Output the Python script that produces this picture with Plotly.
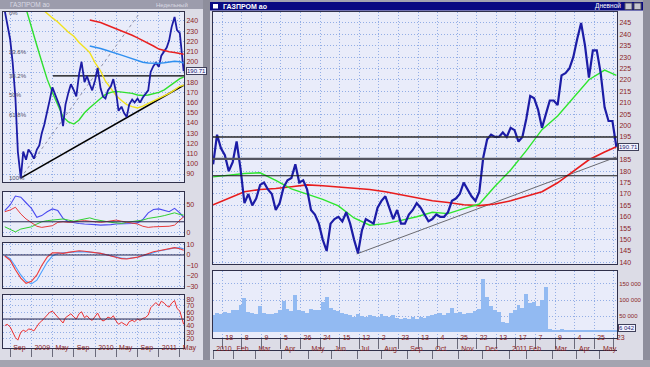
import plotly.graph_objects as go
import pandas as pd

# ---------------- LEFT WINDOW (weekly overview) ----------------
left_dates = list(pd.date_range("2008-08-01", "2011-05-15", freq="SMS").strftime("%Y-%m-%d")) + ["2011-05-23"]
left_close = [250, 236, 222, 200, 165, 112, 86, 112, 104, 114,
              110, 105, 114, 118, 130, 138, 150, 162, 175, 169, 160, 155, 137, 158, 170, 178, 172, 166, 188, 200, 180, 186, 178, 172,
              182, 194, 174, 166, 164, 172, 176, 183, 170, 152, 156, 150, 146, 158, 163, 160, 164, 160, 165, 168, 172, 190, 196, 199,
              195, 206, 210, 214, 221, 234, 244, 231, 228, 202,
              190.71]
left_rsi = [40, 42, 38, 30, 22, 18, 30, 33, 31, 35,
            34, 32, 38, 44, 47, 51, 55, 60, 62, 58, 54, 50, 44, 52, 56, 58, 53, 50, 58, 61, 52, 55, 50, 48,
            54, 59, 50, 47, 49, 53, 51, 55, 47, 42, 45, 43, 40, 46, 48, 46, 50, 48, 51, 52, 56, 67, 72, 75,
            70, 77, 74, 70, 68, 74, 78, 66, 62, 50,
            42]

month_dates = list(pd.date_range("2008-08-01", "2011-05-01", freq="MS").strftime("%Y-%m-%d")) + ["2011-05-23"]
left_green = [None] * 4 + [252, 235, 216, 200, 183, 170, 157, 146, 141, 139, 143, 150, 155,
                           160, 164, 168, 170, 171, 170.5, 170, 169, 167.5, 167, 167.5, 168.5,
                           170, 172.5, 176, 180, 183.5, 185]
left_yellow = [None] * 7 + [252, 247, 243, 239, 234, 229, 225, 219, 214, 209,
                            199, 191, 181, 174, 167, 162, 158, 156, 154.7, 156.5, 159, 161,
                            164, 166, 169, 172.5, 176, 177]
left_red = [None] * 16 + [241, 240, 238.5, 236.5, 234.5, 232.5, 230, 228.5, 226, 223.5, 221, 218.5, 215.5,
                          212.5, 211, 209.8, 209, 208, 207.5]
left_blue = [None] * 16 + [215.5, 214.5, 213, 211.5, 210, 208.5, 206.5, 204.8, 203, 201, 199.5, 198.8, 198.5,
                           198.6, 199, 199.8, 200.6, 200, 198.8]

dmi_blue = [40, 50, 66, 64, 54, 44, 28, 31, 38, 43, 40, 26, 20, 18, 17, 16, 16, 15, 14, 14,
            15, 16, 16, 17, 17, 18, 24, 36, 42, 43, 40, 38, 44, 36, 28]
dmi_red = [38, 41, 46, 34, 25, 19, 12, 10, 11, 13, 19, 20, 19, 20, 21, 22, 21, 20, 19, 20,
           22, 23, 21, 19, 18, 16, 12, 10, 11, 11, 12, 12, 14, 22, 29]
dmi_green = [11, 6, 2, 7, 9, 11, 16, 20, 22, 23, 24, 25, 23, 21, 23, 25, 27, 24, 22, 20,
             19, 18, 17, 19, 20, 21, 23, 26, 27, 29, 31, 34, 36, 33, 32]
macd_red = [-1, -5, -14, -22, -27, -25, -19, -10, -2, 2, 2, 1.5, 2.5, 3.5, 4, 3.5, 3, 2, 1.5, 0.5,
            -1, -2.5, -3.5, -3.8, -3, -2, -0.5, 1.5, 3, 4, 5, 6, 7, 6, 4.5]
macd_blue = [-0.5, -3.5, -11, -19, -25, -27.5, -24, -16, -7, -1, 1.5, 2, 2.5, 3, 3.2, 3, 2.8, 2.2, 1.5, 0.5,
             -0.8, -2, -3, -3.3, -3, -2.2, -1, 0.8, 2.5, 3.8, 4.8, 5.8, 6.8, 6.8, 6]

left_trend_dates = ["2008-10-31", "2011-05-23"]
left_trend_vals = [86, 177]
left_diag_dates = ["2008-10-31", "2010-09-14"]
left_diag_vals = [86, 248]
fib_high, fib_low = 248, 86
fib_ratios = [0, 0.236, 0.382, 0.5, 0.618, 1.0]
fib_labels = ["0%", "23.6%", "38.2%", "50%", "61.8%", "100%"]
fib_line_dates = ["2009-05-04", "2011-05-25"]

left_tick_dates = ["2008-09-01", "2009-01-01", "2009-05-01", "2009-09-01", "2010-01-01",
                   "2010-05-01", "2010-09-01", "2011-01-01", "2011-05-01"]
left_tick_text = ["Sep", "2009", "May", "Sep", "2010", "May", "Sep", "2011", "May"]
left_price_ticks = list(range(90, 241, 10))

# ---------------- RIGHT WINDOW (daily, trading-day index) ----------------
day_idx = list(range(8, 318, 3))
right_close = [183, 196, 190, 187, 180, 184, 193, 181, 166, 170,
               165, 168, 174, 175, 172, 170, 163, 166, 173, 176,
               177, 183, 175, 176, 172, 163, 161, 157, 150, 145,
               157, 159, 160, 158, 162, 157, 150, 144, 154, 159,
               158, 157, 164, 167, 169, 164, 159, 163, 157, 157,
               161, 163, 166, 164, 161, 158, 159, 161, 160, 160,
               162, 167, 168, 170, 175, 172, 169, 167, 171, 186,
               194, 196, 195, 195, 197, 195, 199, 198, 193, 195,
               203, 213, 212, 207, 199, 205, 211, 211, 209, 222,
               223, 225, 230, 238, 245, 235, 221, 233, 233, 223,
               208, 202, 202, 190.71]
volume_k = [52, 58, 55, 62, 60, 68, 70, 85, 105, 62,
            58, 55, 80, 58, 55, 57, 60, 68, 98, 72,
            65, 115, 70, 65, 60, 72, 68, 70, 95, 110,
            75, 70, 65, 60, 55, 52, 48, 55, 50, 47,
            52, 50, 48, 55, 50, 47, 52, 45, 42, 44,
            40, 46, 42, 48, 44, 50, 52, 55, 58, 52,
            60, 75, 58, 62, 55, 60, 58, 65, 72, 165,
            110, 80, 70, 62, 32, 28, 60, 70, 85, 75,
            120, 90, 95, 80, 100, 140, 8, 6, 5, 9,
            6, 5, 7, 6, 5, 7, 6, 5, 6, 5,
            7, 6, 5, 6.042]
ma_days = list(range(8, 317, 12)) + [317]
green_ma = [177.5, 178.2, 179, 179.3, 176, 172.2, 170, 167.6, 164.8, 159.5,
            156.3, 157, 158.4, 160, 162, 161.4, 163.6, 165.6, 173.4, 180.5,
            189, 198.2, 204.2, 212.2, 220.1, 224.3, 222]
red_ma = [165.3, 168, 171, 172, 172.4, 173.2, 174, 173.6, 173, 172.7,
          172, 171, 169.7, 168.3, 167, 166.3, 165.3, 164.9, 165.6, 167,
          168.9, 171, 174.9, 179.9, 185, 188.4, 190.7]
trend_days = [118, 317]
trend_vals = [143.7, 186.2]
levels = [195, 185.4, 178]
level_colors = ["#2a2a2a", "#555560", "#1a1a1a"]
level_widths = [1.4, 2.2, 1.2]
right_price_ticks = list(range(140, 246, 5))
vol_ticks = [50, 100, 150]
vol_text = ["50 000", "100 000", "150 000"]

day_ticks = list(range(15, 316, 15))
day_text = ["18", "8", "9", "5", "26", "24", "15", "12", "2", "23", "13",
            "4", "25", "22", "13", "17", "7", "9", "4", "25", "23"]
month_ticks = [8, 23.7, 40.5, 60.4, 81, 98.7, 118.5, 136.9, 156.8, 175.9,
               195.8, 214.2, 234.8, 247.8, 267.7, 286.1, 304.4]
month_text = ["2010", "Feb", "Mar", "Apr", "May", "Jun", "Jul", "Aug", "Sep",
              "Oct", "Nov", "Dec", "2011", "Feb", "Mar", "Apr", "May"]

# ---------------- layout helpers ----------------
W, H = 650, 367
def fx(p):
    return p / W
def fy(p):
    return 1 - p / H

FONT = "Liberation Sans, Arial, sans-serif"
TICKC = "#8b1f1f"
GRID = "#93aee6"
LINE = "#30304a"
NAVY = "#1c1ca6"
GDASH = "1px,2px"

fig = go.Figure()

def sc(x, y, xa, ya, color, width=1.4, dash=None):
    fig.add_trace(go.Scatter(x=x, y=y, xaxis=xa, yaxis=ya, mode="lines",
                             line=dict(color=color, width=width, dash=dash),
                             connectgaps=False, showlegend=False, hoverinfo="skip"))

# left price panel
sc(left_diag_dates, left_diag_vals, "x", "y", "#9090a8", 1, "dot")
sc(left_trend_dates, left_trend_vals, "x", "y", "#000000", 1.6)
fib_382 = fib_high - 0.382 * (fib_high - fib_low)
sc(fib_line_dates, [fib_382, fib_382], "x", "y", "#000000", 1.3)
sc(month_dates, left_yellow, "x", "y", "#f2e21c", 1.4)
sc(month_dates, left_green, "x", "y", "#2ee02e", 1.4)
sc(left_dates, left_close, "x", "y", NAVY, 1.8)
sc(month_dates, left_red, "x", "y", "#e82020", 1.5)
sc(month_dates, left_blue, "x", "y", "#2f8ff0", 1.5)

# left oscillators
sc(month_dates, dmi_blue, "x2", "y2", "#4a4af0", 1.1)
sc(month_dates, dmi_green, "x2", "y2", "#30d030", 1.0)
sc(month_dates, dmi_red, "x2", "y2", "#e83a3a", 1.0)
sc(month_dates, macd_blue, "x3", "y3", "#4aa0ff", 1.1)
sc(month_dates, macd_red, "x3", "y3", "#ee3a3a", 1.1)
sc(left_dates, left_rsi, "x4", "y4", "#ee3030", 1.0)

# right price panel
sc(trend_days, trend_vals, "x5", "y5", "#6a6a70", 1.0)
sc(ma_days, red_ma, "x5", "y5", "#e81c1c", 1.6)
sc(ma_days, green_ma, "x5", "y5", "#2ee62e", 1.4)
sc(day_idx, right_close, "x5", "y5", NAVY, 2.2)

# volume
fig.add_trace(go.Bar(x=day_idx, y=volume_k, xaxis="x6", yaxis="y6", width=3,
                     marker=dict(color="#92baf2", line=dict(width=0)),
                     showlegend=False, hoverinfo="skip"))
# helper trace for month label axis
fig.add_trace(go.Scatter(x=[month_ticks[0]], y=[0], xaxis="x7", yaxis="y6", mode="markers",
                         marker=dict(opacity=0), showlegend=False, hoverinfo="skip"))

left_xdom = [fx(3), fx(184)]
right_xdom = [fx(213), fx(617)]
left_range = ["2008-07-22", "2011-05-25"]
right_range = [7.9, 317.5]

def xax(dom, rng, tickvals, ticktext=None, labels=False, **kw):
    d = dict(domain=dom, range=rng, tickvals=tickvals, ticktext=ticktext, tickangle=0,
             showticklabels=labels, showgrid=True, gridcolor=GRID, griddash=GDASH, gridwidth=1,
             zeroline=False, showline=True, linecolor=LINE, linewidth=1, mirror=True,
             ticks="", tickfont=dict(family=FONT, size=7, color=TICKC), automargin=False,
             fixedrange=True)
    d.update(kw)
    return d

def yax(dom, rng, tickvals, anchor, ticktext=None, size=7):
    return dict(domain=dom, range=rng, tickvals=tickvals, ticktext=ticktext, side="right",
                anchor=anchor, showgrid=True, gridcolor=GRID, griddash=GDASH, gridwidth=1,
                zeroline=False, showline=True, linecolor=LINE, linewidth=1, mirror=True,
                ticks="", tickfont=dict(family=FONT, size=size, color=TICKC), automargin=False,
                fixedrange=True)

# hide the tick label that sits under the last-price box
left_price_text = ["" if v == 190 else str(v) for v in left_price_ticks]
right_price_text = ["" if v == 190 else str(v) for v in right_price_ticks]

date_kw = dict(ticks="outside", ticklen=8, tickcolor="#6a6a7a", ticklabelposition="outside right",
               ticklabelstandoff=-7, ticklabelshift=2)

layout = dict(
    width=W, height=H, autosize=False,
    margin=dict(l=0, r=0, t=0, b=0),
    paper_bgcolor="#dcdce6", plot_bgcolor="#e9ecfa",
    showlegend=False, hovermode=False, bargap=0,
    font=dict(family=FONT, size=7, color=TICKC),
    xaxis=xax(left_xdom, left_range, left_tick_dates, left_tick_text, False, type="date", anchor="y"),
    xaxis2=xax(left_xdom, left_range, left_tick_dates, left_tick_text, False, type="date", anchor="y2", matches="x"),
    xaxis3=xax(left_xdom, left_range, left_tick_dates, left_tick_text, False, type="date", anchor="y3", matches="x"),
    xaxis4=xax(left_xdom, left_range, left_tick_dates, left_tick_text, True, type="date", anchor="y4", matches="x",
               **date_kw),
    xaxis5=xax(right_xdom, right_range, day_ticks, day_text, False, anchor="y5"),
    xaxis6=xax(right_xdom, right_range, day_ticks, day_text, True, anchor="y6", matches="x5",
               ticks="outside", ticklen=10, tickcolor="#6a6a7a", ticklabelposition="outside right",
               ticklabelstandoff=-7, ticklabelshift=2),
    xaxis7=xax(right_xdom, right_range, month_ticks, month_text, True, overlaying="x6", anchor="free",
               position=fy(350), side="bottom", showgrid=False, mirror=False,
               ticks="outside", ticklen=8, tickcolor="#6a6a7a", ticklabelposition="outside right",
               ticklabelstandoff=-8, ticklabelshift=2),
    yaxis=yax([fy(182), fy(12)], [82.2, 248.8], left_price_ticks, "x", left_price_text),
    yaxis2=yax([fy(236), fy(192)], [-5.4, 73.2], [0, 50], "x2"),
    yaxis3=yax([fy(288), fy(243)], [-31.4, 11.4], [10, 0, -10, -20, -30], "x3"),
    yaxis4=yax([fy(348), fy(295)], [6.1, 86.4], list(range(20, 81, 10)), "x4"),
    yaxis5=yax([fy(264), fy(12)], [139.3, 249.8], right_price_ticks, "x5", right_price_text),
    yaxis6=yax([fy(338), fy(271)], [-18.75, 190.6], vol_ticks, "x6", vol_text, size=6),
)
fig.update_layout(**layout)

shapes = []
# reference lines
for lv, c, w in zip(levels, level_colors, level_widths):
    shapes.append(dict(type="line", xref="x5 domain", x0=0, x1=1, yref="y5", y0=lv, y1=lv,
                       line=dict(color=c, width=w)))
shapes.append(dict(type="line", xref="x2 domain", x0=0, x1=1, yref="y2", y0=20, y1=20,
                   line=dict(color="#262650", width=1)))
shapes.append(dict(type="line", xref="x3 domain", x0=0, x1=1, yref="y3", y0=0, y1=0,
                   line=dict(color="#262650", width=1)))
shapes.append(dict(type="line", xref="x4 domain", x0=0, x1=1, yref="y4", y0=50, y1=50,
                   line=dict(color="#262650", width=1)))
# window chrome
strip = "#8e8e9c"
for x0, x1 in [(203, 210), (643, 650)]:
    shapes.append(dict(type="rect", xref="paper", yref="paper", x0=fx(x0), x1=fx(x1), y0=0, y1=1,
                       fillcolor=strip, line=dict(width=0), layer="below"))
shapes.append(dict(type="rect", xref="paper", yref="paper", x0=0, x1=1, y0=0, y1=fy(360),
                   fillcolor="#a4a4b0", line=dict(width=0), layer="below"))
shapes.append(dict(type="rect", xref="paper", yref="paper", x0=fx(210), x1=fx(643), y0=fy(2), y1=1,
                   fillcolor="#a4a4b0", line=dict(width=0), layer="below"))
# title bars
shapes.append(dict(type="rect", xref="paper", yref="paper", x0=0, x1=fx(203), y0=fy(9), y1=1,
                   fillcolor="#9c9cac", line=dict(width=0)))
shapes.append(dict(type="rect", xref="paper", yref="paper", x0=fx(210), x1=fx(643), y0=fy(10.5), y1=fy(2),
                   fillcolor="#0a0a82", line=dict(width=0)))
shapes.append(dict(type="rect", xref="paper", yref="paper", x0=fx(213), x1=fx(218), y0=fy(8.5), y1=fy(4),
                   fillcolor="#ffffff", line=dict(width=0)))
for bx in (625, 634):
    shapes.append(dict(type="rect", xref="paper", yref="paper", x0=fx(bx), x1=fx(bx + 7), y0=fy(9.5), y1=fy(3),
                       fillcolor="#c8c8d0", line=dict(color="#505060", width=1)))
fig.update_layout(shapes=shapes)

ann = []
for r, t in zip(fib_ratios, fib_labels):
    ann.append(dict(x="2008-08-14", y=fib_high - r * (fib_high - fib_low), xref="x", yref="y",
                    text=t, showarrow=False, xanchor="left", yanchor="middle",
                    font=dict(family=FONT, size=6, color="#50506a")))
box = dict(showarrow=False, xanchor="left", yanchor="middle", bgcolor="#f4f4ff",
           bordercolor="#40405a", borderwidth=1, borderpad=0,
           font=dict(family=FONT, size=6, color="#202070"))
ann.append(dict(x=1, xref="x domain", y=left_close[-1], yref="y", xshift=2,
                text=f"{left_close[-1]:.2f}", **box))
ann.append(dict(x=1, xref="x5 domain", y=right_close[-1], yref="y5", xshift=1,
                text=f"{right_close[-1]:.2f}", **box))
ann.append(dict(x=1, xref="x6 domain", y=volume_k[-1], yref="y6", xshift=1, yshift=2,
                text=f"{volume_k[-1] * 1000:,.0f}".replace(",", " "), **box))
ann.append(dict(x=fx(221), y=fy(6.3), xref="paper", yref="paper", text="<b>ГАЗПРОМ ао</b>",
                showarrow=False, xanchor="left", yanchor="middle",
                font=dict(family=FONT, size=7, color="#ffffff")))
ann.append(dict(x=fx(623), y=fy(6.3), xref="paper", yref="paper", text="Дневной",
                showarrow=False, xanchor="right", yanchor="middle",
                font=dict(family=FONT, size=6.5, color="#ffffff")))
ann.append(dict(x=fx(8), y=fy(4.5), xref="paper", yref="paper", text="ГАЗПРОМ ао",
                showarrow=False, xanchor="left", yanchor="middle",
                font=dict(family=FONT, size=6.5, color="#dadae4")))
ann.append(dict(x=fx(190), y=fy(4.5), xref="paper", yref="paper", text="Недельный",
                showarrow=False, xanchor="right", yanchor="middle",
                font=dict(family=FONT, size=6, color="#dadae4")))
fig.update_layout(annotations=ann)

# the page's default 8px body margin would shift the 650x367 figure; remove it
fig.write_html("out.html", config={"displayModeBar": False},
               post_script="document.body.style.margin='0px';document.body.style.overflow='hidden';")
